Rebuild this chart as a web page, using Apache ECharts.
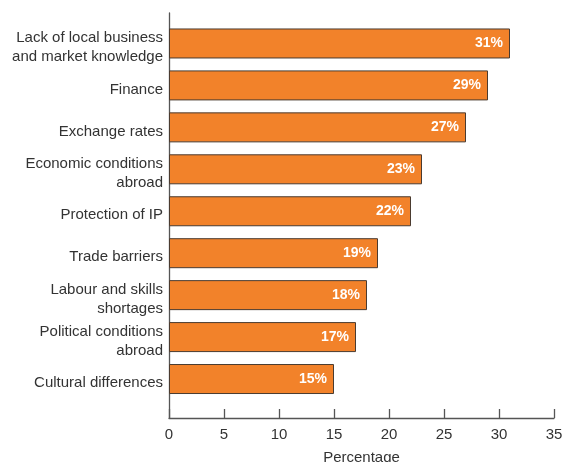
<!DOCTYPE html>
<html>
<head>
<meta charset="utf-8">
<script src="https://cdn.jsdelivr.net/npm/echarts@6/dist/echarts.min.js"></script>
<style>
  html, body { margin: 0; padding: 0; background: #fff; }
  #chart { width: 565px; height: 462px; }
</style>
</head>
<body>
<div id="chart"></div>
<script>
// Barriers to exporting, share of respondents
const categories = [
  'Lack of local business\nand market knowledge',
  'Finance',
  'Exchange rates',
  'Economic conditions\nabroad',
  'Protection of IP',
  'Trade barriers',
  'Labour and skills\nshortages',
  'Political conditions\nabroad',
  'Cultural differences'
];
const percentages = [31, 29, 27, 23, 22, 19, 18, 17, 15];
const xTicks = { min: 0, max: 35, interval: 5 };

const textColor = '#333333';
const lineColor = '#555555';
const fontFamily = '"Liberation Sans", Arial, sans-serif';
const labelFont = { color: textColor, fontSize: 15, fontFamily };

// Category names sit a little below their bar's centre: the first line
// gets a taller box with the text pushed to its bottom.
function categoryLabel(name) {
  const lines = name.split('\n');
  return ['{first|' + lines[0] + '}']
    .concat(lines.slice(1).map(s => '{rest|' + s + '}'))
    .join('\n');
}

const chart = echarts.init(document.getElementById('chart'), null, { renderer: 'canvas' });

chart.setOption({
  animation: false,
  grid: [
    // frame: axis lines, ticks and tick labels
    { left: 169, right: 11, top: 13, height: 405, containLabel: false, outerBoundsMode: 'none' },
    // bars and category labels
    { left: 169, right: 11, top: 22.5, height: 377.5, containLabel: false, outerBoundsMode: 'none' }
  ],
  xAxis: [
    {
      gridIndex: 0,
      type: 'value',
      min: xTicks.min, max: xTicks.max, interval: xTicks.interval,
      name: 'Percentage',
      nameLocation: 'middle',
      nameGap: 32,
      nameTextStyle: labelFont,
      axisLine: { show: true, lineStyle: { color: lineColor, width: 1.3 } },
      axisTick: { show: true, inside: true, length: 9, lineStyle: { color: lineColor, width: 1.3 } },
      axisLabel: Object.assign({ margin: 9 }, labelFont),
      splitLine: { show: false }
    },
    {
      gridIndex: 1,
      type: 'value',
      min: xTicks.min, max: xTicks.max,
      show: false
    }
  ],
  yAxis: [
    {
      gridIndex: 0,
      type: 'value',
      min: 0, max: 1,
      axisLine: { show: true, lineStyle: { color: lineColor, width: 1.3 } },
      axisTick: { show: false },
      axisLabel: { show: false },
      splitLine: { show: false }
    },
    {
      gridIndex: 1,
      type: 'category',
      inverse: true,
      data: categories,
      axisLine: { show: false },
      axisTick: { show: false },
      axisLabel: Object.assign({
        margin: 6, align: 'right',
        formatter: categoryLabel,
        rich: {
          first: Object.assign({ lineHeight: 23, verticalAlign: 'bottom' }, labelFont),
          rest: Object.assign({ lineHeight: 19, verticalAlign: 'bottom' }, labelFont)
        }
      }, labelFont)
    }
  ],
  series: [{
    type: 'bar',
    xAxisIndex: 1,
    yAxisIndex: 1,
    data: percentages,
    barWidth: 30,
    itemStyle: { color: '#F2822A', borderColor: '#4a3b30', borderWidth: 1 },
    label: {
      show: true,
      position: 'insideRight',
      distance: 7,
      formatter: p => p.value + '%',
      color: '#ffffff',
      fontWeight: 'bold',
      fontSize: 14,
      fontFamily
    }
  }]
});
</script>
</body>
</html>
